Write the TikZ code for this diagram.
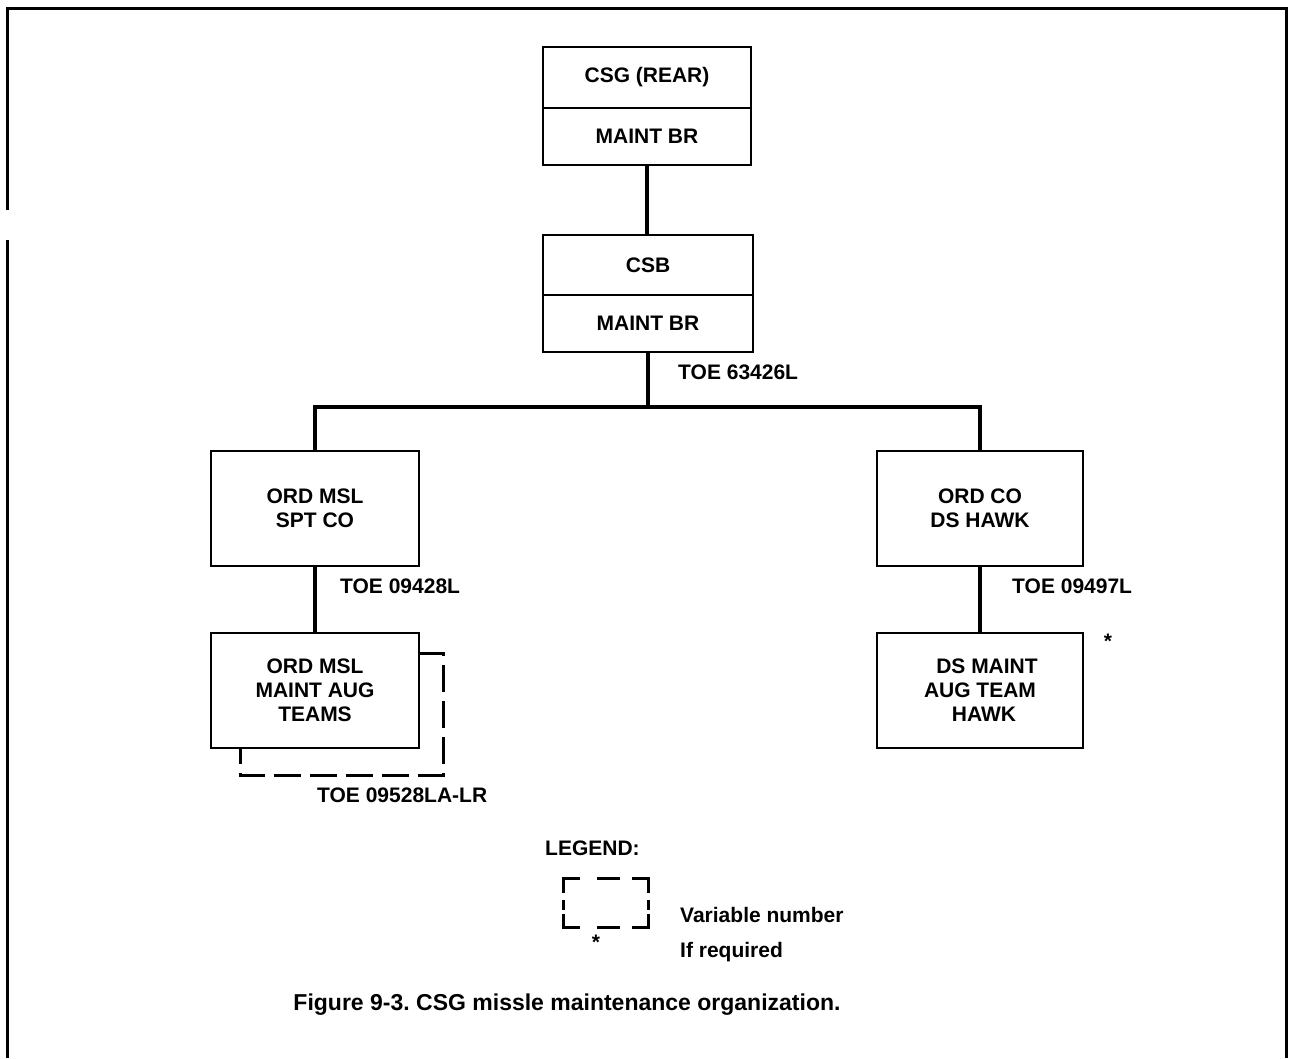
\documentclass[tikz,border=0pt]{standalone}
\usepackage{fontspec}
\setmainfont{Liberation Sans}
\frenchspacing
\begin{document}
\begin{tikzpicture}[x=1pt,y=-1pt,
  lbl/.style={font=\fontsize{21}{24}\selectfont\bfseries, inner sep=0pt, align=center},
  unit/.style={draw, line width=2.8pt, inner sep=0pt, lbl},
  half/.style={unit, minimum width=208pt},
  cell/.style={unit, minimum width=208pt, minimum height=115pt},
  conn/.style={line width=3.6pt},
  frameline/.style={line width=3pt},
  varline/.style={line width=3pt, dash pattern=on 27pt off 9pt},
  legline/.style={line width=3pt},
  toe/.style={lbl, anchor=west},
  caption/.style={font=\fontsize{23}{26}\selectfont\bfseries, inner sep=0pt, anchor=base}]
\useasboundingbox (0,0) rectangle (1289,1058);

% page frame, open at the bottom, with a break on the left side
\draw[frameline] (7,210) -- (7,8) -- (1286,8) -- (1286,1058);
\draw[frameline] (7,240) -- (7,1058);

% group and battalion headquarters
\node[half, minimum height=61pt] (csgA) at (647,77.5) {CSG (REAR)};
\node[half, minimum height=57pt] (csgB) at (647,136.5) {MAINT BR};
\node[half, minimum width=210pt, minimum height=60pt] (csbA) at (648,265) {CSB};
\node[half, minimum width=210pt, minimum height=57pt] (csbB) at (648,323.5) {MAINT BR};

% companies
\node[cell] (opsc) at (315,508.5) {ORD MSL\\SPT CO};
\node[cell, minimum width=206pt] (ocdh) at (980,508.5) {ORD CO\\DS HAWK};

% augmentation teams
\node[cell] (omm) at (315,690.5) {ORD MSL\\MAINT AUG\\TEAMS};
\node[cell, minimum width=206pt] (dsm) at (980,690.5) {\hspace*{14pt}DS MAINT\\AUG TEAM\\\hspace*{8pt}HAWK};

% connectors
\coordinate (bus) at (650,407);
\draw[conn] (csgB.south) -- (csgB.south |- csbA.north);
\draw[conn] (csbB.south) -- (csbB.south |- bus);
\draw[conn] (opsc.north) -- (opsc.north |- bus) -- (ocdh.north |- bus) -- (ocdh.north);
\draw[conn] (opsc.south) -- (omm.north);
\draw[conn] (ocdh.south) -- (dsm.north);

% variable-number outline behind the left team box
\draw[varline] (419,653) -- (443,653) -- (443,775) -- (240,775) -- (240,748);

% TOE labels
\node[toe] (toeA) at (678,372) {TOE 63426L};
\node[toe] (toeB) at (340,586) {TOE 09428L};
\node[toe] (toeC) at (1012,586) {TOE 09497L};
\node[toe] (toeD) at (317,795) {TOE 09528LA-LR};
\node[lbl] (star) at (1108,641) {*};

% legend
\node[lbl, anchor=west] (legend) at (545,848) {LEGEND:};
\draw[legline] (563,893) -- (563,878) -- (580,878);
\draw[legline] (597,878) -- (620,878);
\draw[legline] (632,878) -- (648,878) -- (648,893);
\draw[legline] (563,900) -- (563,910);
\draw[legline] (648,900) -- (648,910);
\draw[legline] (563,914) -- (563,927) -- (580,927);
\draw[legline] (597,927) -- (620,927);
\draw[legline] (632,927) -- (648,927) -- (648,914);
\node[lbl, anchor=base west] (varnum) at (680,922) {Variable number};
\node[lbl] (legstar) at (596,942) {*};
\node[lbl, anchor=base west] (ifreq) at (680,957) {If required};

% caption
\node[caption] (cap) at (567,1010) {Figure 9-3. CSG missle maintenance organization.};
\end{tikzpicture}
\end{document}
